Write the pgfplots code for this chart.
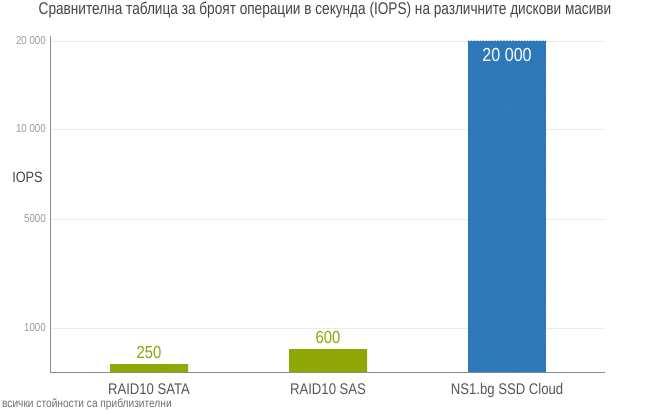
\documentclass[border=0pt]{standalone}
\usepackage{pgfplots}
\pgfplotsset{compat=1.18}
\usepackage{fontspec}
\setmainfont{Liberation Sans}[FakeStretch=0.85]
\newfontfamily\titlefont{Liberation Sans}[FakeStretch=0.805]
\usetikzlibrary{patterns}
\definecolor{grn}{HTML}{8CA500}
\definecolor{grnline}{HTML}{98AF14}
\definecolor{blu}{HTML}{2B75B7}
\definecolor{bluline}{HTML}{3A82C0}
\definecolor{axgray}{HTML}{8C8C8C}
\definecolor{gridgray}{HTML}{EBEBEB}
\definecolor{ticklab}{HTML}{9A9A9A}
\definecolor{catlab}{HTML}{555555}
\definecolor{titlec}{HTML}{444444}
\begin{document}
\begin{tikzpicture}[x=1bp,y=1bp]
\useasboundingbox (0,0) rectangle (650,410);
\begin{axis}[
  at={(50bp,38bp)}, anchor=south west,
  scale only axis, width=555bp, height=336bp,
  y coord trafo/.code={%
    \begingroup
    \pgfkeys{/pgf/fpu=true,/pgf/fpu/output format=fixed}%
    \pgfmathparse{#1<=250 ? #1*0.032 : (#1<=600 ? 8+(#1-250)*0.0428571 : (#1<=1000 ? 23+(#1-600)*0.0525 : (#1<=5000 ? 44+(#1-1000)*0.02725 : (#1<=10000 ? 153+(#1-5000)*0.018 : 243+(#1-10000)*0.0088))))}%
    \global\let\myres\pgfmathresult
    \endgroup
    \let\pgfmathresult\myres
  },
  ymin=0, ymax=20568,
  xmin=-0.553, xmax=2.547,
  ytick={1000,5000,10000,20000},
  yticklabels={1000,5000,10 000,20 000},
  xtick={0,1,2},
  xticklabels={RAID10 SATA,RAID10 SAS,NS1.bg SSD Cloud},
  axis x line*=bottom, axis y line*=left,
  axis line style={draw=axgray, line width=0.9bp, -},
  tick style={draw=none},
  ymajorgrids, grid style={draw=gridgray, line width=0.8bp},
  yticklabel style={font=\fontsize{11.5}{12}\selectfont, text=ticklab, anchor=east, inner sep=0pt, xshift=-4bp},
  xticklabel style={font=\fontsize{15.5}{16}\selectfont, text=catlab, anchor=north, inner sep=0pt, yshift=-7bp},
  ybar, bar width=78bp,
  point meta=explicit symbolic,
  nodes near coords,
  clip=false,
]
\addplot[bar shift=0pt, draw=none, fill=grn,
  postaction={pattern=north east lines, pattern color=grnline},
  nodes near coords style={font=\fontsize{17.5}{18}\selectfont, text=grn, anchor=south, inner sep=0pt, yshift=5bp}]
  coordinates {(0,250) [250] (1,600) [600]};
\addplot[bar shift=0pt, draw=none, fill=blu,
  postaction={pattern=north east lines, pattern color=bluline},
  nodes near coords style={font=\fontsize{19}{20}\selectfont, text=white, anchor=north, inner sep=0pt, yshift=-7bp}]
  coordinates {(2,20000) [20 000]};
\end{axis}
\node[font=\titlefont\fontsize{17}{18}\selectfont, text=titlec] at (325,400) {Сравнителна таблица за броят операции в секунда (IOPS) на различните дискови масиви};
\node[font=\fontsize{15}{16}\selectfont, text=titlec] at (27.5,233) {IOPS};
\node[font=\fontsize{12}{13}\selectfont, text=catlab!85, anchor=base west, inner sep=0pt] at (2,3) {всички стойности са приблизителни};
\end{tikzpicture}
\end{document}
